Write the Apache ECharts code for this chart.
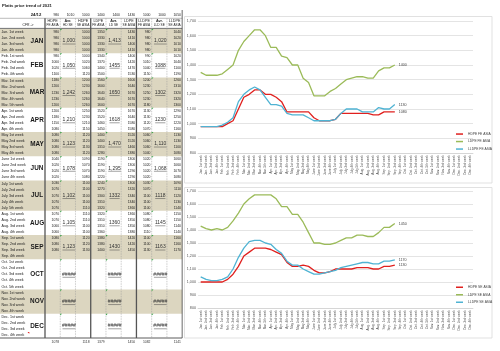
<!DOCTYPE html>
<html><head><meta charset="utf-8">
<script src="https://cdn.jsdelivr.net/npm/echarts@6/dist/echarts.min.js"></script>
<style>html,body{margin:0;padding:0;background:#fff}#c{width:500px;height:351px}</style>
</head><body><div id="c"></div>
<script>
const weeks = ["Jan. 1st week","Jan. 2nd week","Jan. 3rd week","Jan. 4th week",
"Feb. 1st week","Feb. 2nd week","Feb. 3rd week","Feb. 4th week",
"Mar. 1st week","Mar. 2nd week","Mar. 3rd week","Mar. 4th week","Mar. 5th week",
"Apr. 1st week","Apr. 2nd week","Apr. 3rd week","Apr. 4th week",
"May 1st week","May 2nd week","May 3rd week","May 4th week",
"June 1st week","June 2nd week","June 3rd week","June 4th week",
"July 1st week","July 2nd week","July 3rd week","July 4th week","July 5th week",
"Aug. 1st week","Aug. 2nd week","Aug. 3rd week","Aug. 4th week",
"Sep. 1st week","Sep. 2nd week","Sep. 3rd week","Sep. 4th week",
"Oct. 1st week","Oct. 2nd week","Oct. 3rd week","Oct. 4th week","Oct. 5th week",
"Nov. 1st week","Nov. 2nd week","Nov. 3rd week","Nov. 4th week",
"Dec. 1st week","Dec. 2nd week","Dec. 3rd week","Dec. 4th week"];
const months = ['JAN','FEB','MAR','APR','MAY','JUN','JUL','AUG','SEP','OCT','NOV','DEC'];
const monthWeeks = [4,4,5,4,4,4,5,4,4,5,4,4];

const hdpeFE  = [980,980,980,980, 980,1000,1020,1100, 1180,1200,1230,1230,1200, 1200,1180,1150,1080, 1080,1080,1080,1080, 1040,1020,1020,1020, 1030,1070,1070,1070,1070, 1070,1070,1060,1060, 1080,1080,1080];
const hdpeSE  = [1000,1000,1000,1000, 1000,1020,1060,1120, 1200,1230,1260,1260,1260, 1250,1230,1210,1150, 1120,1120,1130,1120, 1090,1070,1070,1080, 1100,1100,1100,1100,1110, 1110,1110,1100,1100, 1120,1120,1130];
const ldpeFE  = [1350,1330,1330,1330, 1340,1370,1400,1500, 1560,1600,1640,1640,1600, 1520,1520,1460,1450, 1400,1400,1310,1280, 1190,1190,1190,1220, 1240,1270,1300,1310,1320, 1320,1310,1310,1360, 1380,1380,1400];
const ldpeSE  = [1430,1410,1400,1410, 1400,1420,1470,1530, 1600,1640,1670,1670,1670, 1670,1640,1580,1580, 1520,1520,1460,1380, 1300,1300,1290,1290, 1300,1320,1340,1340,1360, 1360,1350,1350,1380, 1420,1420,1450];
const lldpeFE = [980,980,980,980, 990,1010,1040,1150, 1200,1230,1250,1230,1180, 1130,1130,1120,1070, 1060,1060,1060,1040, 1020,1020,1020,1020, 1030,1070,1100,1100,1100, 1080,1080,1080,1110, 1100,1100,1130];
const lldpeSE = [1040,1020,1010,1010, 1020,1040,1100,1190, 1260,1310,1320,1320,1300, 1290,1250,1220,1160, 1130,1130,1100,1080, 1060,1060,1070,1080, 1090,1110,1120,1130,1140, 1150,1150,1140,1140, 1160,1160,1170];

const hdAvg  = ['1,000','1,050','1,242','1,210','1,123','1,078','1,102','1,105','1,123','#####','#####','#####'];
const ldAvg  = ['1,413','1455','1650','1618','1,470','1,295','1332','1360','1430','#####','#####','#####'];
const lldAvg = ['1,020','1088','1302','1230','1,110','1,068','1118','1145','1163','#####','#####','#####'];

const prevLabel = '24/12';
const prevWeek = ['980','1010','1000','1400','1400','1430','1000','1000','1050'];
const ytdAvg = ['1078','1118','1379','1450','1082','1141'];
const head1 = ['HDPE','Avr.','HDPE','LDPE','Avr.','LDPE','LLDPE','Avr.','LLDPE'];
const head2 = ['FE ASIA','HD SE','SE ASIA','FE ASIA','LD SE','SE ASIA','FE ASIA','LLD SE','SE ASIA'];
const title = 'Platts price trend of 2021';
const cfr = 'CFR ->';

const namesFE = ['HDPE FE ASIA','LDPE FE ASIA','LLDPE FE ASIA'];
const namesSE = ['HDPE SE ASIA','LDPE SE ASIA','LLDPE SE ASIA'];
const colors = ['#e0201e','#9bbb59','#4fb3d3'];

const FONT = '"Liberation Sans", Arial, sans-serif';
const T0 = 29, TB = 338, RH = (TB - T0) / 51;
const CW = 15.24, C0 = 45;
const edge = k => C0 + k * CW;
const TAN = '#dcd6c0';
const g = [];
function txt(x, y, s, size, opt) {
  opt = opt || {};
  g.push({type:'text', x:x, y:y, silent:true, z:5, style:{text:s, fontSize:size, fontFamily:FONT,
    fontWeight:opt.bold?'bold':'normal', fill:opt.fill||'#1a1a1a', align:opt.align||'left', verticalAlign:'middle'}});
}
function line(x1,y1,x2,y2,color,w,dash){
  g.push({type:'line', silent:true, z:4, shape:{x1:x1,y1:y1,x2:x2,y2:y2}, style:{stroke:color, lineWidth:w, lineDash:dash||null}});
}
// chart boxes
g.push({type:'rect', z:0, silent:true, shape:{x:184.5,y:16.5,width:307.5,height:166.5}, style:{fill:'#fff', stroke:'#d9d9d9', lineWidth:0.8}});
g.push({type:'rect', z:0, silent:true, shape:{x:184.5,y:187.5,width:307.5,height:150.5}, style:{fill:'#fff', stroke:'#d9d9d9', lineWidth:0.8}});
// title
txt(2, 5.5, title, 4.2, {bold:true});
// month bands
let start = 0;
const groups = [];
monthWeeks.forEach((n, m) => {
  const y = T0 + start * RH;
  groups.push({y:y, h:n*RH, start:start});
  if (m % 2 === 0) g.push({type:'rect', z:1, silent:true, shape:{x:0,y:y,width:edge(9),height:n*RH}, style:{fill:TAN}});
  start += n;
});
// header
txt(36, 15, prevLabel, 4.2, {bold:true, align:'center'});
prevWeek.forEach((s, k) => txt(edge(k+1) - 1.2, 15, s, 3.4, {align:'right'}));
head1.forEach((s, k) => txt(edge(k) + CW/2, 20.5, s, 3.7, {align:'center', bold: s === 'Avr.'}));
head2.forEach((s, k) => txt(edge(k) + CW/2, 25.3, s, 3.2, {align:'center'}));
txt(28, 25.3, cfr, 3.4, {align:'center'});
// week rows
weeks.forEach((w, i) => txt(1.5, T0 + (i + 0.5) * RH, w, 3.6));
// month labels + averages
const avgCols = [[1, hdAvg], [4, ldAvg], [7, lldAvg]];
groups.forEach((gr, m) => {
  const cy = gr.y + gr.h / 2;
  txt(37, cy, months[m], 6.4, {bold:true, align:'center'});
  avgCols.forEach(([k, arr]) => {
    const s = arr[m];
    const cx = edge(k) + CW / 2 + 1;
    txt(cx, cy, s, 5, {align:'center', fill:'#333'});
    const w = s.length * 2.55;
    line(cx - w/2, cy + 2.9, cx + w/2, cy + 2.9, '#444', 0.5);
    g.push({type:'polygon', z:6, silent:true, shape:{points:[[edge(k),gr.y],[edge(k)+1.8,gr.y],[edge(k),gr.y+1.8]]}, style:{fill:'#2e9e3e'}});
  });
});
// weekly values
const valCols = [[0, hdpeFE], [2, hdpeSE], [3, ldpeFE], [5, ldpeSE], [6, lldpeFE], [8, lldpeSE]];
valCols.forEach(([k, arr]) => arr.forEach((v, i) => txt(edge(k+1) - 1.2, T0 + (i + 0.5) * RH, String(v), 3.4, {align:'right'})));
// ytd averages
valCols.forEach(([k], j) => txt(edge(k+1) - 1.2, 342.5, ytdAvg[j], 3.4, {align:'right', fill:'#333'}));
// grid lines of table
line(0, 18.3, edge(9), 18.3, '#777', 0.5);
line(0, 28.4, edge(9), 28.4, '#333', 0.7);
line(0, TB, edge(9), TB, '#333', 0.8);
[0, 3, 6].forEach(k => line(edge(k), 18.3, edge(k), TB, '#555', 1.3));
[1, 2, 4, 5, 7, 8].forEach(k => line(edge(k), 18.3, edge(k), TB, '#9a9a9a', 0.5, [1.5, 1]));
line(edge(9), 10, edge(9), TB, '#444', 0.8);
// comment marker
g.push({type:'polygon', z:6, silent:true, shape:{points:[[27.5,T0+50*RH],[29.3,T0+50*RH],[29.3,T0+50*RH+1.8]]}, style:{fill:'#e01010'}});

function mkSeries(name, data, color, k) {
  return {name:name, type:'line', xAxisIndex:k, yAxisIndex:k, data:data, symbol:'none', smooth:false,
    lineStyle:{color:color, width:1.3}, itemStyle:{color:color},
    endLabel:{show:true, formatter: p => String(p.value), fontSize:3.6, color:'#404040', distance:4, fontFamily:FONT}};
}
const axisX = k => ({type:'category', gridIndex:k, data:weeks, boundaryGap:true,
  axisLine:{lineStyle:{color:'#d0d0d0', width:0.7}}, axisTick:{show:false},
  axisLabel:{rotate:90, interval:0, fontSize:3.1, color:'#555', margin:2, fontFamily:FONT}});
const axisY = k => ({type:'value', gridIndex:k, min:800, max:1700, interval:100,
  axisLine:{show:false}, axisTick:{show:false},
  axisLabel:{fontSize:3.7, color:'#555', margin:2, fontFamily:FONT},
  splitLine:{lineStyle:{color:'#d9d9d9', width:0.7}}});
const legendOf = (names, top) => ({data:names, orient:'vertical', left:451, top:top, itemWidth:7, itemHeight:1.5,
  icon:'rect', itemGap:0, textStyle:{fontSize:3.3, color:'#404040', lineHeight:7.5, fontFamily:FONT}});

const option = {
  animation:false,
  backgroundColor:'#fff',
  textStyle:{fontFamily:FONT},
  graphic:{elements:g},
  grid:[{left:198, right:27, top:21, height:132}, {left:198, right:27, top:191, height:117}],
  xAxis:[axisX(0), axisX(1)],
  yAxis:[axisY(0), axisY(1)],
  legend:[legendOf(namesFE, 125.3), legendOf(namesSE, 278.5)],
  series:[
    mkSeries(namesFE[0], hdpeFE, colors[0], 0),
    mkSeries(namesFE[1], ldpeFE, colors[1], 0),
    mkSeries(namesFE[2], lldpeFE, colors[2], 0),
    mkSeries(namesSE[0], hdpeSE, colors[0], 1),
    mkSeries(namesSE[1], ldpeSE, colors[1], 1),
    mkSeries(namesSE[2], lldpeSE, colors[2], 1)
  ]
};
const chart = echarts.init(document.getElementById('c'), null, {renderer:'canvas'});
chart.setOption(option);
</script></body></html>
